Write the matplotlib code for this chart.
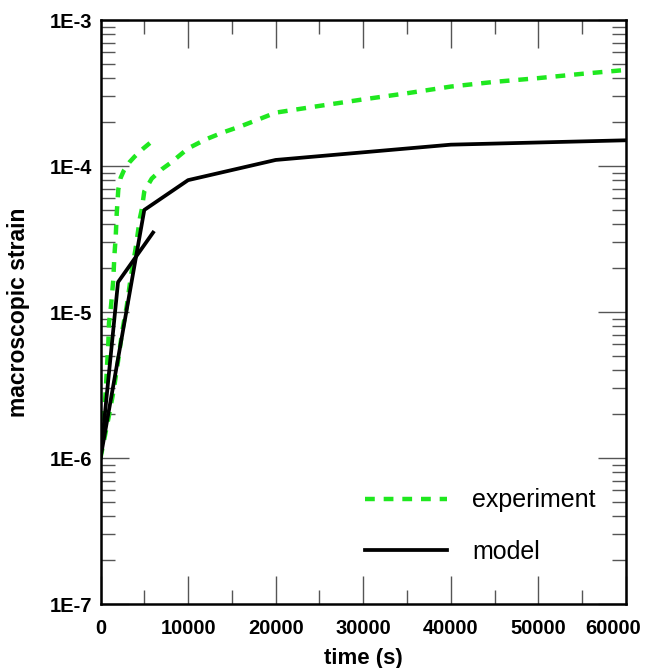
import numpy as np
import matplotlib
matplotlib.use("Agg")
import matplotlib.pyplot as plt
import matplotlib.transforms as mtransforms
from matplotlib.ticker import FixedLocator, LogLocator, FuncFormatter, MultipleLocator

plt.rcParams['font.family'] = ['Liberation Sans', 'DejaVu Sans']

# experiment, short run
exp1_t = [0, 430, 600, 740, 890, 970, 1200, 1460, 1580, 1740, 1850, 2030, 2300, 2700, 3300, 3900, 4900, 5900]
exp1_y = [1e-6, 2.1e-6, 2.9e-6, 4.2e-6, 6e-6, 8.4e-6, 1.1e-5, 1.66e-5, 2.4e-5, 3.3e-5, 4.7e-5, 6.9e-5,
          8.3e-5, 9.4e-5, 1.06e-4, 1.16e-4, 1.32e-4, 1.48e-4]

# experiment, long run
exp2_t = [0, 1000, 1500, 2000, 2500, 3000, 3500, 4000, 4500, 4700, 5000, 5850, 7000, 8000, 10000, 12000,
          14000, 16000, 18000, 20000, 25000, 30000, 35000, 40000, 45000, 50000, 55000, 60000]
exp2_y = [1e-6, 2.0e-6, 2.9e-6, 4.6e-6, 7.5e-6, 1.1e-5, 1.8e-5, 2.7e-5, 4.4e-5, 5.0e-5, 6.7e-5, 8.2e-5,
          9.5e-5, 1.05e-4, 1.32e-4, 1.52e-4, 1.70e-4, 1.87e-4, 2.08e-4, 2.32e-4, 2.58e-4, 2.86e-4,
          3.15e-4, 3.5e-4, 3.77e-4, 4.0e-4, 4.28e-4, 4.55e-4]

# model, short run
mod1_t = [0, 2000, 6000]
mod1_y = [1e-6, 1.6e-5, 3.5e-5]

# model, long run
mod2_t = [0, 5000, 10000, 20000, 40000, 60000]
mod2_y = [1e-6, 5e-5, 8e-5, 1.1e-4, 1.4e-4, 1.5e-4]

xticks = [0, 10000, 20000, 30000, 40000, 50000, 60000]

W, H = 646, 668
fig = plt.figure(figsize=(W / 100, H / 100), dpi=100)
ax = fig.add_axes([100.5 / W, 1 - 604 / H, (626 - 100.5) / W, (604 - 20) / H])

green = '#1fe81f'
ax.plot(exp1_t, exp1_y, color=green, lw=3.2, ls=(0, (2.2, 2.0)), label='experiment')
ax.plot(exp2_t, exp2_y, color=green, lw=3.2, ls=(0, (2.2, 2.0)))
ax.plot(mod1_t, mod1_y, color='black', lw=2.7, label='model')
ax.plot(mod2_t, mod2_y, color='black', lw=2.7)

ax.set_yscale('log')
ax.set_xlim(0, 60000)
ax.set_ylim(1e-7, 1e-3)

ax.xaxis.set_major_locator(FixedLocator(xticks))
ax.xaxis.set_minor_locator(MultipleLocator(5000))
ax.yaxis.set_major_locator(LogLocator(base=10, numticks=10))
ax.yaxis.set_minor_locator(LogLocator(base=10, subs=np.arange(2, 10), numticks=20))
ax.yaxis.set_major_formatter(FuncFormatter(lambda v, p: "1E%d" % int(round(np.log10(v)))))
ax.yaxis.set_minor_formatter(FuncFormatter(lambda v, p: ""))

ax.tick_params(which='both', direction='in', top=True, right=True, color='#555555', width=1)
ax.tick_params(which='major', length=20)
ax.tick_params(which='minor', length=10)
ax.tick_params(axis='x', which='major', pad=11, labelsize=14.5)
ax.tick_params(axis='y', which='major', pad=6, labelsize=14.5)
for lab in ax.get_xticklabels() + ax.get_yticklabels():
    lab.set_fontweight('bold')
for s in ax.spines.values():
    s.set_linewidth(1.8)

# keep the last x label inside the figure as in the reference
last = ax.get_xticklabels()[-1]
last.set_transform(last.get_transform() + mtransforms.ScaledTranslation(-13 / 100, 0, fig.dpi_scale_trans))

ax.set_xlabel('time (s)', fontsize=16, fontweight='bold', labelpad=7)
ax.set_ylabel('macroscopic strain', fontsize=16.5, fontweight='bold', labelpad=14)

leg = ax.legend(loc='upper left', bbox_to_anchor=((342 - 100.5) / 525.5, (604 - 466) / 584),
                frameon=False, fontsize=18, handlelength=3.3, handletextpad=1.0, labelspacing=1.1)

fig.savefig('out.png', dpi=100)
